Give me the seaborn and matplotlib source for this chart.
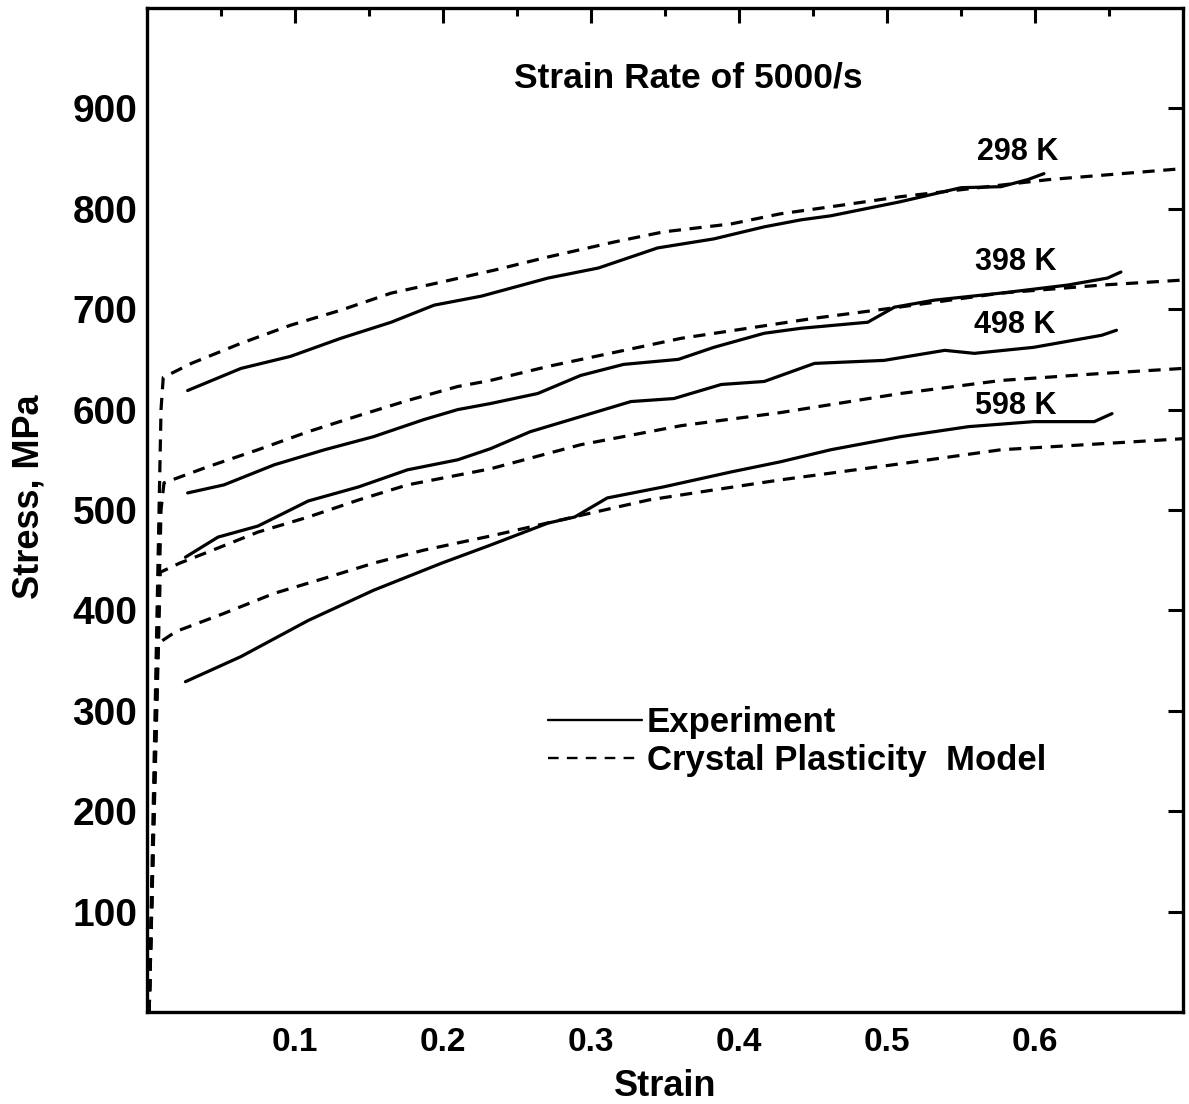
import numpy as np
import pandas as pd
import matplotlib
matplotlib.use("Agg")
import matplotlib.pyplot as plt
import seaborn as sns
from matplotlib.lines import Line2D

# ---------------- data ----------------
exp_298_strain = [0.0275, 0.0635, 0.097, 0.131, 0.165, 0.194, 0.226, 0.271, 0.305, 0.345, 0.383,
                  0.417, 0.442, 0.462, 0.509, 0.550, 0.577, 0.595, 0.606]
exp_298_stress = [619, 641, 653, 671, 687, 704, 713, 731, 741, 761, 770,
                  782, 789, 793, 807, 821, 822, 829, 835]

mod_298_strain = [0.0015, 0.0095, 0.011, 0.030, 0.0635, 0.097, 0.131, 0.165, 0.199, 0.235, 0.271,
                  0.316, 0.349, 0.395, 0.428, 0.462, 0.509, 0.609, 0.700]
mod_298_stress = [0, 600, 632, 646, 666, 684, 699, 716, 727, 739, 752,
                  767, 777, 785, 795, 802, 812, 829, 840]

exp_398_strain = [0.0275, 0.052, 0.086, 0.120, 0.153, 0.187, 0.210, 0.232, 0.264, 0.293, 0.322,
                  0.359, 0.383, 0.417, 0.442, 0.487, 0.505, 0.532, 0.577, 0.622, 0.649, 0.658]
exp_398_stress = [517, 525, 545, 560, 573, 590, 600, 606, 616, 634, 645,
                  650, 662, 676, 681, 687, 702, 709, 716, 724, 731, 737]

mod_398_strain = [0.0015, 0.0095, 0.0115, 0.041, 0.075, 0.109, 0.143, 0.176, 0.210, 0.232, 0.271,
                  0.316, 0.361, 0.406, 0.451, 0.503, 0.577, 0.645, 0.700]
mod_398_stress = [0, 500, 527, 543, 560, 578, 594, 609, 623, 629, 643,
                  657, 671, 681, 691, 701, 716, 724, 729]

exp_498_strain = [0.026, 0.048, 0.075, 0.109, 0.143, 0.176, 0.210, 0.232, 0.259, 0.293, 0.327,
                  0.356, 0.388, 0.417, 0.451, 0.498, 0.539, 0.559, 0.599, 0.645, 0.655]
exp_498_stress = [453, 473, 484, 509, 523, 540, 550, 561, 578, 593, 608,
                  611, 625, 628, 646, 649, 659, 656, 662, 674, 679]

mod_498_strain = [0.0015, 0.009, 0.022, 0.041, 0.075, 0.109, 0.143, 0.176, 0.232, 0.293, 0.361,
                  0.428, 0.509, 0.577, 0.645, 0.700]
mod_498_stress = [0, 438, 447, 458, 478, 493, 510, 525, 541, 565, 584,
                  597, 616, 629, 636, 641]

exp_598_strain = [0.026, 0.0635, 0.109, 0.153, 0.199, 0.232, 0.271, 0.289, 0.311, 0.349, 0.395,
                  0.428, 0.462, 0.509, 0.555, 0.599, 0.640, 0.652]
exp_598_stress = [329, 354, 390, 420, 447, 465, 487, 493, 512, 523, 538,
                  548, 560, 573, 583, 588, 588, 596]

mod_598_strain = [0.0015, 0.0075, 0.0196, 0.052, 0.086, 0.120, 0.153, 0.187, 0.235, 0.300, 0.339,
                  0.383, 0.428, 0.509, 0.577, 0.645, 0.700]
mod_598_stress = [0, 367, 379, 397, 417, 432, 447, 460, 475, 497, 510,
                  520, 530, 546, 560, 566, 571]

temp_labels = ["298 K", "398 K", "498 K", "598 K"]
temp_label_pos = [(0.588, 857), (0.587, 747), (0.586, 684), (0.587, 604)]

x_tick_vals = [0.1, 0.2, 0.3, 0.4, 0.5, 0.6]
x_tick_labels = ["0.1", "0.2", "0.3", "0.4", "0.5", "0.6"]
y_tick_vals = [100, 200, 300, 400, 500, 600, 700, 800, 900]
y_tick_labels = ["100", "200", "300", "400", "500", "600", "700", "800", "900"]

title_text = "Strain Rate of 5000/s"
legend_labels = ["Experiment", "Crystal Plasticity  Model"]

# ---------------- figure ----------------
sns.set_theme(style="white")
plt.rcParams["font.family"] = ["Liberation Sans", "DejaVu Sans"]
plt.rcParams["axes.edgecolor"] = "black"
plt.rcParams["text.color"] = "black"
plt.rcParams["axes.labelcolor"] = "black"

fig = plt.figure(figsize=(11.89, 11.04), dpi=100)
ax = fig.add_axes([0.1236, 0.0833, 0.8714, 0.9095])

LW = 2.3
DASH = (0, (3.8, 2.7))

series = [
    (exp_298_strain, exp_298_stress, "-"), (mod_298_strain, mod_298_stress, DASH),
    (exp_398_strain, exp_398_stress, "-"), (mod_398_strain, mod_398_stress, DASH),
    (exp_498_strain, exp_498_stress, "-"), (mod_498_strain, mod_498_stress, DASH),
    (exp_598_strain, exp_598_stress, "-"), (mod_598_strain, mod_598_stress, DASH),
]
for xs, ys, ls in series:
    df = pd.DataFrame({"strain": xs, "stress": ys})
    sns.lineplot(data=df, x="strain", y="stress", ax=ax, color="black",
                 linewidth=LW, linestyle=ls, sort=False, estimator=None)

ax.set_xlim(0, 0.7)
ax.set_ylim(0, 1000)

ax.set_xticks(x_tick_vals)
ax.set_xticklabels(x_tick_labels)
ax.set_xticks(np.arange(0.05, 0.7, 0.1), minor=True)
ax.set_yticks(y_tick_vals)
ax.set_yticklabels(y_tick_labels)
ax.set_yticks(np.arange(50, 1000, 100), minor=True)

ax.tick_params(which="both", direction="in", top=True, right=True, color="black",
               width=2.2, labelcolor="black")
ax.tick_params(which="major", length=11)
ax.tick_params(which="minor", length=6)
ax.tick_params(axis="x", which="major", pad=11, labelsize=24)
ax.tick_params(axis="y", which="major", pad=7, labelsize=28)
ax.tick_params(axis="y", which="minor", right=False)
for lab in ax.get_xticklabels() + ax.get_yticklabels():
    lab.set_fontweight("bold")

for sp in ax.spines.values():
    sp.set_linewidth(2.4)
    sp.set_color("black")

ax.set_xlabel("Strain", fontsize=26, fontweight="bold", labelpad=8)
ax.set_ylabel("Stress, MPa", fontsize=26, fontweight="bold")
ax.yaxis.set_label_coords(-0.097, 0.513)

ax.text(0.366, 930, title_text, fontsize=25.5, fontweight="bold", ha="center", va="center")
for lab, (tx, ty) in zip(temp_labels, temp_label_pos):
    ax.text(tx, ty, lab, fontsize=22, fontweight="bold", ha="center", va="center")

handles = [Line2D([], [], color="black", linewidth=1.7, linestyle="-"),
           Line2D([], [], color="black", linewidth=1.7, linestyle=(0, (4.5, 3.5)))]
leg = ax.legend(handles, legend_labels, loc="upper left", bbox_to_anchor=(0.387, 0.305),
                frameon=False, fontsize=25, handlelength=2.7, handletextpad=0.15,
                labelspacing=0.15, borderpad=0, borderaxespad=0)
for t in leg.get_texts():
    t.set_fontweight("bold")

fig.savefig("out.png", dpi=100)
